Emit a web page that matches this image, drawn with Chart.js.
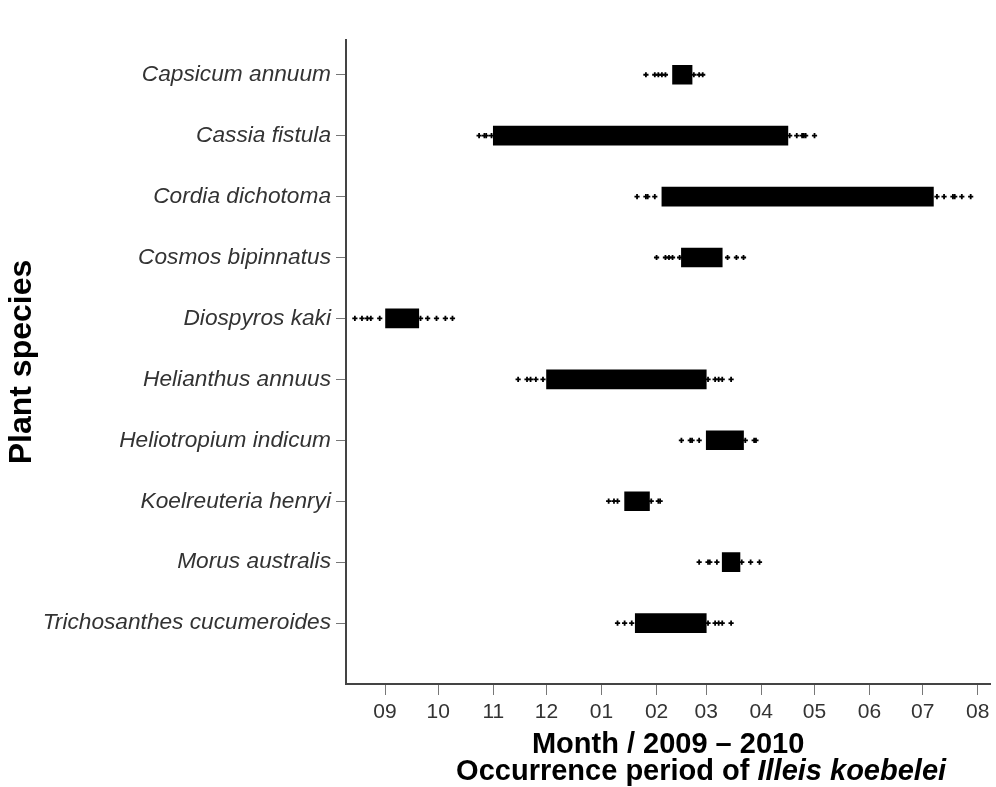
<!DOCTYPE html>
<html>
<head>
<meta charset="utf-8">
<script src="https://cdn.jsdelivr.net/npm/chart.js@4/dist/chart.umd.min.js"></script>
<style>
  body { margin: 0; background: #fff; }
  #wrap { width: 996px; height: 787px; }
</style>
</head>
<body>
<div id="wrap"><canvas id="chart" width="996" height="787"></canvas></div>
<script>
// data ---------------------------------------------------------------
const species = [
    'Capsicum annuum', 'Cassia fistula', 'Cordia dichotoma', 'Cosmos bipinnatus',
    'Diospyros kaki', 'Helianthus annuus', 'Heliotropium indicum',
    'Koelreuteria henryi', 'Morus australis', 'Trichosanthes cucumeroides'
]
const barStart = ['2010-02-10', '2009-11-01', '2010-02-04', '2010-02-15', '2009-09-01',
    '2009-12-01', '2010-03-01', '2010-01-14', '2010-03-10', '2010-01-20']
const barEnd = ['2010-02-21', '2010-04-16', '2010-07-07', '2010-03-10', '2009-09-20',
    '2010-03-01', '2010-03-22', '2010-01-28', '2010-03-20', '2010-03-01']

// single records outside the main period
const sightings = [
    ['2010-01-26', '2010-01-31', '2010-02-02', '2010-02-04', '2010-02-06', '2010-02-22', '2010-02-25', '2010-02-27'],
    ['2009-10-24', '2009-10-27', '2009-10-28', '2009-10-31', '2010-04-17', '2010-04-21', '2010-04-24', '2010-04-25', '2010-04-26', '2010-05-01'],
    ['2010-01-21', '2010-01-26', '2010-01-27', '2010-01-31', '2010-07-09', '2010-07-13', '2010-07-18', '2010-07-19', '2010-07-23', '2010-07-28'],
    ['2010-02-01', '2010-02-06', '2010-02-08', '2010-02-10', '2010-02-14', '2010-03-13', '2010-03-18', '2010-03-22'],
    ['2009-08-15', '2009-08-19', '2009-08-22', '2009-08-24', '2009-08-29', '2009-09-21', '2009-09-25', '2009-09-30', '2009-10-05', '2009-10-09'],
    ['2009-11-15', '2009-11-20', '2009-11-22', '2009-11-25', '2009-11-29', '2010-03-02', '2010-03-06', '2010-03-08', '2010-03-10', '2010-03-15'],
    ['2010-02-15', '2010-02-20', '2010-02-21', '2010-02-25', '2010-03-23', '2010-03-28', '2010-03-29'],
    ['2010-01-05', '2010-01-08', '2010-01-10', '2010-01-29', '2010-02-02', '2010-02-03'],
    ['2010-02-25', '2010-03-02', '2010-03-03', '2010-03-07', '2010-03-21', '2010-03-26', '2010-03-31'],
    ['2010-01-10', '2010-01-14', '2010-01-18', '2010-03-02', '2010-03-06', '2010-03-08', '2010-03-10', '2010-03-15']
]

const monthTicks = ['2009-09-01', '2009-10-01', '2009-11-01', '2009-12-01', '2010-01-01', '2010-02-01',
    '2010-03-01', '2010-04-01', '2010-05-01', '2010-06-01', '2010-07-01', '2010-08-01']
const monthLabels = ['09', '10', '11', '12', '01', '02', '03', '04', '05', '06', '07', '08']
const axisFrom = '2009-08-10'
const axisTo = '2010-08-08'

// days since 1 Sep 2009
const day = s => (Date.parse(s) - Date.parse('2009-09-01')) / 864e5

// build datasets -------------------------------------------------------
const bars = species.map((s, i) => ({ y: i + 1, x: [day(barStart[i]), day(barEnd[i])] }))
const dots = []
sightings.forEach((list, i) => {
    list.forEach(d => dots.push({ x: day(d), y: i + 1 }))
})

// second title line with the italic species name
const subTitle = {
    id: 'subTitle',
    afterDraw(chart) {
        const ctx = chart.ctx
        const xs = chart.scales.x
        const a = 'Occurrence period of '
        const b = 'Illeis koebelei'
        ctx.save()
        ctx.fillStyle = '#000'
        ctx.textBaseline = 'middle'
        ctx.font = 'bold 29px "Liberation Sans", Arial, sans-serif'
        const wa = ctx.measureText(a).width
        ctx.font = 'italic bold 29px "Liberation Sans", Arial, sans-serif'
        const wb = ctx.measureText(b).width
        const cx = (xs.left + xs.right) / 2 + 33
        const x0 = cx - (wa + wb) / 2
        const y = 772
        ctx.font = 'bold 29px "Liberation Sans", Arial, sans-serif'
        ctx.fillText(a, x0, y)
        ctx.font = 'italic bold 29px "Liberation Sans", Arial, sans-serif'
        ctx.fillText(b, x0 + wa, y)
        ctx.restore()
    }
}

const ctx = document.getElementById('chart').getContext('2d')
const chart = new Chart(ctx, {
    type: 'bar',
    data: {
        datasets: [
            {
                type: 'bar',
                indexAxis: 'y',
                data: bars,
                backgroundColor: '#000',
                borderColor: '#000',
                borderWidth: 0,
                barThickness: 19
            },
            {
                type: 'scatter',
                data: dots,
                pointStyle: 'cross',
                radius: 2.6,
                borderWidth: 1.8,
                borderColor: '#000',
                backgroundColor: '#000'
            }
        ]
    },
    options: {
        responsive: false,
        animation: false,
        layout: { padding: { top: 40, right: 3, left: 0, bottom: 0 } },
        plugins: { legend: { display: false }, tooltip: { enabled: false } },
        scales: {
            x: {
                type: 'linear',
                position: 'bottom',
                offset: false,
                min: day(axisFrom),
                max: day(axisTo),
                afterBuildTicks: scale => {
                    scale.ticks = monthTicks.map(m => ({ value: day(m) }))
                },
                afterFit: scale => { scale.height = 103 },
                ticks: {
                    autoSkip: false,
                    maxRotation: 0,
                    padding: 5,
                    color: '#333',
                    font: { family: '"Liberation Sans", Arial, sans-serif', size: 21 },
                    callback: (v, i) => monthLabels[i]
                },
                grid: { offset: false, drawOnChartArea: false, tickLength: 11, tickColor: '#777', tickWidth: 1 },
                border: { display: true, color: '#444', width: 2 },
                title: {
                    display: true,
                    text: 'Month / 2009 \u2013 2010',
                    color: '#000',
                    font: { family: '"Liberation Sans", Arial, sans-serif', size: 29, weight: 'bold' },
                    padding: { top: 0, bottom: 25 }
                }
            },
            y: {
                type: 'linear',
                reverse: true,
                offset: false,
                min: 0.43,
                max: 11,
                afterBuildTicks: scale => {
                    scale.ticks = species.map((s, i) => ({ value: i + 1 }))
                },
                afterFit: scale => { scale.width = 346 },
                ticks: {
                    autoSkip: false,
                    padding: 5,
                    color: '#333',
                    font: { family: '"Liberation Sans", Arial, sans-serif', size: 22.7, style: 'italic' },
                    callback: (v, i) => species[i]
                },
                grid: { offset: false, drawOnChartArea: false, tickLength: 10, tickColor: '#777', tickWidth: 1 },
                border: { display: true, color: '#444', width: 2 },
                title: {
                    display: true,
                    text: 'Plant species',
                    color: '#000',
                    font: { family: '"Liberation Sans", Arial, sans-serif', size: 32, weight: 'bold' },
                    padding: { top: 3, bottom: 0 }
                }
            }
        }
    },
    plugins: [subTitle]
})
</script>
</body>
</html>
